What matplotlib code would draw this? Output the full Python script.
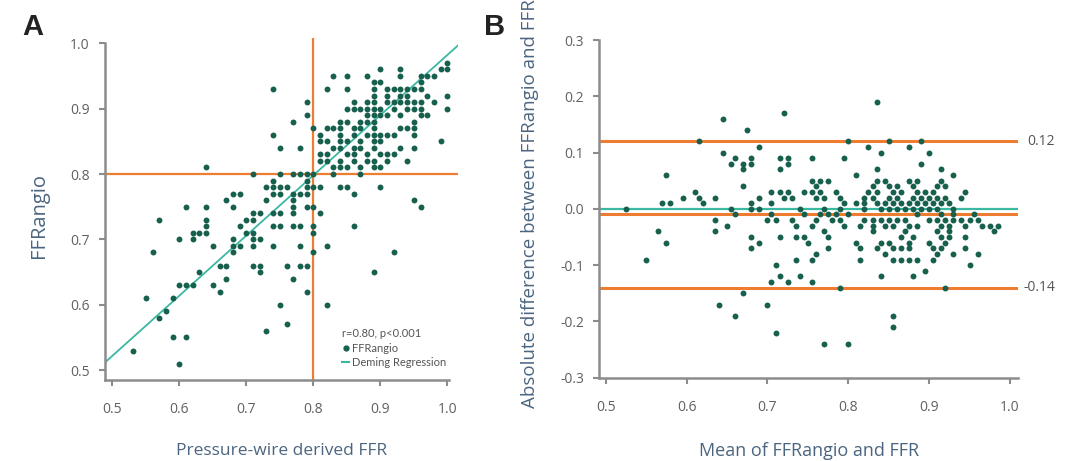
import matplotlib
matplotlib.use("Agg")
import matplotlib.pyplot as plt
from matplotlib.lines import Line2D

# --- Panel A: FFRangio rows (y) and the pressure-wire FFR values found on each row (x) ---
a_angio = [0.97, 0.96, 0.95, 0.94, 0.93, 0.92, 0.91, 0.90, 0.89, 0.88, 0.87, 0.86, 0.85, 0.84,
           0.83, 0.82, 0.81, 0.80, 0.79, 0.78, 0.77, 0.76, 0.75, 0.74, 0.73, 0.72, 0.71, 0.70,
           0.69, 0.68, 0.66, 0.65, 0.64, 0.63, 0.62, 0.61, 0.60, 0.59, 0.58, 0.57, 0.56, 0.55,
           0.53, 0.51]
a_wire = [
    [1.00],
    [0.90, 0.93, 0.99, 1.00],
    [0.83, 0.85, 0.88, 0.93, 0.96, 0.97, 0.98],
    [0.89, 0.90, 0.96],
    [0.74, 0.82, 0.85, 0.89, 0.91, 0.92, 0.93, 0.94, 0.95, 0.96],
    [0.89, 0.91, 0.93, 0.94, 0.97, 1.00],
    [0.79, 0.86, 0.88, 0.89, 0.91, 0.92, 0.93, 0.94, 0.95, 0.96, 0.98],
    [0.85, 0.86, 0.87, 0.88, 0.89, 0.90, 0.92, 0.94, 0.95, 0.96, 1.00],
    [0.79, 0.88, 0.89, 0.90, 0.91, 0.93, 0.96, 0.97],
    [0.77, 0.84, 0.85, 0.87, 0.88, 0.89, 0.95],
    [0.80, 0.82, 0.83, 0.84, 0.86, 0.87, 0.89, 0.93, 0.94, 0.95],
    [0.74, 0.81, 0.84, 0.86, 0.88, 0.89, 0.90, 0.91, 0.92, 0.95],
    [0.81, 0.82, 0.84, 0.85, 0.87, 0.89, 0.90, 0.99],
    [0.75, 0.78, 0.83, 0.84, 0.86, 0.87, 0.89, 0.93, 0.95],
    [0.81, 0.82, 0.85, 0.86, 0.88, 0.90, 0.91, 0.92],
    [0.81, 0.82, 0.84, 0.86, 0.88, 0.89, 0.91, 0.94],
    [0.64, 0.83, 0.84, 0.85, 0.87, 0.89, 0.90],
    [0.71, 0.75, 0.77, 0.78, 0.79, 0.80, 0.83, 0.87],
    [0.74, 0.79],
    [0.73, 0.74, 0.75, 0.76, 0.79, 0.80, 0.81, 0.84, 0.85, 0.90],
    [0.68, 0.69, 0.74, 0.75, 0.77, 0.78, 0.79, 0.86],
    [0.67, 0.73, 0.77, 0.95],
    [0.61, 0.64, 0.68, 0.77, 0.79, 0.80, 0.96],
    [0.71, 0.72, 0.74, 0.75, 0.77, 0.81],
    [0.57, 0.64, 0.70, 0.71],
    [0.64, 0.69, 0.74, 0.75, 0.77, 0.78, 0.80, 0.86],
    [0.62, 0.63, 0.64, 0.70, 0.71, 0.80],
    [0.60, 0.62, 0.68, 0.71, 0.72],
    [0.65, 0.68, 0.69, 0.71, 0.74, 0.78, 0.82],
    [0.56, 0.68, 0.80, 0.92],
    [0.66, 0.67, 0.71, 0.72, 0.76, 0.78, 0.79],
    [0.63, 0.72, 0.89],
    [0.67, 0.77],
    [0.60, 0.61, 0.62, 0.65],
    [0.66, 0.79],
    [0.55, 0.59],
    [0.75, 0.82],
    [0.58],
    [0.57],
    [0.76],
    [0.73],
    [0.59, 0.61],
    [0.53],
    [0.60],
]
deming_slope = 0.92
deming_intercept = 0.062
cutoff = 0.80

# --- Panel B: difference rows (y) and the means found on each row (x) ---
b_diff = [0.19, 0.17, 0.16, 0.14, 0.12, 0.11, 0.10, 0.09, 0.08, 0.07, 0.06, 0.05, 0.04, 0.03,
          0.02, 0.01, 0.00, -0.01, -0.02, -0.03, -0.04, -0.05, -0.06, -0.07, -0.08, -0.09,
          -0.10, -0.11, -0.12, -0.13, -0.14, -0.15, -0.17, -0.19, -0.21, -0.22, -0.24]
b_mean = [
    [0.835],
    [0.72],
    [0.645],
    [0.675],
    [0.615, 0.80, 0.85, 0.89],
    [0.69, 0.825, 0.875],
    [0.645, 0.84, 0.90],
    [0.66, 0.68, 0.715, 0.725, 0.755, 0.795],
    [0.655, 0.67, 0.68, 0.725, 0.89],
    [0.67, 0.715, 0.835, 0.915],
    [0.575, 0.81, 0.93],
    [0.755, 0.765, 0.775, 0.835, 0.845, 0.875, 0.885, 0.915],
    [0.67, 0.76, 0.83, 0.85, 0.86, 0.88, 0.91, 0.92],
    [0.61, 0.705, 0.715, 0.725, 0.745, 0.755, 0.765, 0.785, 0.825, 0.835, 0.855, 0.865,
     0.885, 0.895, 0.905, 0.945],
    [0.595, 0.615, 0.635, 0.69, 0.72, 0.73, 0.76, 0.77, 0.79, 0.82, 0.83, 0.85, 0.86, 0.88,
     0.89, 0.90, 0.91, 0.92, 0.94],
    [0.57, 0.58, 0.62, 0.68, 0.705, 0.795, 0.81, 0.82, 0.835, 0.845, 0.855, 0.865, 0.875,
     0.885, 0.895, 0.905, 0.915, 0.925],
    [0.525, 0.655, 0.68, 0.69, 0.74, 0.77, 0.79, 0.82, 0.84, 0.85, 0.86, 0.87, 0.88, 0.89,
     0.90, 0.91, 0.93],
    [0.66, 0.705, 0.745, 0.765, 0.775, 0.785, 0.80, 0.885, 0.915, 0.93, 0.955],
    [0.635, 0.70, 0.71, 0.73, 0.76, 0.78, 0.79, 0.82, 0.83, 0.84, 0.85, 0.86, 0.87, 0.90,
     0.91, 0.92, 0.93, 0.94, 0.95, 0.96],
    [0.65, 0.735, 0.755, 0.795, 0.815, 0.83, 0.845, 0.855, 0.875, 0.885, 0.915, 0.925,
     0.945, 0.965, 0.975, 0.985],
    [0.565, 0.635, 0.77, 0.83, 0.87, 0.91, 0.925, 0.98],
    [0.68, 0.715, 0.735, 0.745, 0.775, 0.865, 0.88, 0.915, 0.925, 0.945],
    [0.575, 0.69, 0.75, 0.81, 0.84, 0.85, 0.875, 0.90, 0.92],
    [0.68, 0.775, 0.815, 0.835, 0.855, 0.865, 0.875, 0.905, 0.915, 0.945],
    [0.76, 0.845, 0.91, 0.93, 0.96],
    [0.55, 0.735, 0.755, 0.815, 0.855, 0.865, 0.875, 0.885, 0.905],
    [0.71, 0.95],
    [0.895],
    [0.715, 0.74, 0.84, 0.88],
    [0.705, 0.725, 0.755],
    [0.79, 0.92],
    [0.67],
    [0.64, 0.70],
    [0.66, 0.855],
    [0.855],
    [0.71],
    [0.77, 0.80],
]
bias = -0.01
zero_line = -0.001
loa_upper = 0.12
loa_lower = -0.14

# colours
DOT = "#17604e"
ORANGE = "#ef7d31"
TEAL = "#3bb8a2"
SPINE = "#8c8c8c"
TICKTXT = "#606060"
LABEL = "#4b6580"

plt.rcParams["font.family"] = ["Open Sans", "DejaVu Sans"]

# flatten row lists into point lists
ax_x, ax_y = [], []
for yv, xs in zip(a_angio, a_wire):
    for xv in xs:
        ax_x.append(xv)
        ax_y.append(yv)
bx_x, bx_y = [], []
for yv, xs in zip(b_diff, b_mean):
    for xv in xs:
        bx_x.append(xv)
        bx_y.append(yv)

fig = plt.figure(figsize=(10.74, 4.61), dpi=100)
axA = fig.add_axes([0.0978, 0.1757, 0.3287, 0.7419])
axB = fig.add_axes([0.558, 0.1807, 0.3899, 0.7325])


def style_axes(ax):
    for side in ["top", "right"]:
        ax.spines[side].set_visible(False)
    for side in ["left", "bottom"]:
        ax.spines[side].set_color(SPINE)
        ax.spines[side].set_linewidth(1.8)
    ax.tick_params(axis="both", direction="out", length=4, width=1.5, color=SPINE,
                   labelcolor=TICKTXT, labelsize=10)
    ax.tick_params(axis="x", pad=12)
    ax.tick_params(axis="y", pad=7)


# ---------------- Panel A ----------------
xlimA = (0.489, 1.016)
ylimA = (0.485, 1.008)
axA.set_xlim(*xlimA)
axA.set_ylim(*ylimA)
axA.axhline(cutoff, color=ORANGE, lw=1.6, zorder=1)
axA.axvline(cutoff, color=ORANGE, lw=1.6, zorder=1)
axA.plot(list(xlimA), [deming_intercept + deming_slope * v for v in xlimA],
         color=TEAL, lw=1.3, zorder=2)
axA.scatter(ax_x, ax_y, s=18, color=DOT, linewidths=0, zorder=3)
style_axes(axA)
axA.spines["left"].set_bounds(ylimA[0], 1.0)
axA.spines["bottom"].set_bounds(xlimA[0], 1.003)
axA.set_xticks([0.5, 0.6, 0.7, 0.8, 0.9, 1.0])
axA.set_yticks([0.5, 0.6, 0.7, 0.8, 0.9, 1.0])
axA.set_xlabel("Pressure-wire derived FFR", fontsize=12.5, color=LABEL)
axA.xaxis.set_label_coords(0.5, -0.183)
axA.set_ylabel("FFRangio", fontsize=14.5, color=LABEL)
axA.yaxis.set_label_coords(-0.16, 0.48)

handles = [
    Line2D([], [], ls="none", marker="o", ms=3.5, color=DOT),
    Line2D([], [], color=TEAL, lw=1.5),
]
leg = axA.legend(handles, ["FFRangio", "Deming Regression"], title="r=0.80, p<0.001",
                 loc="lower left", bbox_to_anchor=(0.65, 0.012), frameon=False,
                 handlelength=0.6, handletextpad=0.25,
                 labelspacing=0.3, alignment="left", borderpad=0.2,
                 prop={"family": ["Lato", "DejaVu Sans"], "size": 8})
leg.get_title().set_color("#555555")
leg.get_title().set_family(["Lato", "DejaVu Sans"])
leg.get_title().set_fontsize(8)
for t in leg.get_texts():
    t.set_color("#555555")

# ---------------- Panel B ----------------
xlimB = (0.492, 1.01)
ylimB = (-0.3, 0.3)
axB.set_xlim(*xlimB)
axB.set_ylim(*ylimB)
axB.axhline(loa_upper, color=ORANGE, lw=2.2, zorder=1)
axB.axhline(bias, color=ORANGE, lw=2.2, zorder=1)
axB.axhline(loa_lower, color=ORANGE, lw=2.2, zorder=1)
axB.axhline(zero_line, color=TEAL, lw=1.6, zorder=1)
axB.scatter(bx_x, bx_y, s=18, color=DOT, linewidths=0, zorder=3)
style_axes(axB)
axB.set_xticks([0.5, 0.6, 0.7, 0.8, 0.9, 1.0])
axB.set_yticks([-0.3, -0.2, -0.1, 0.0, 0.1, 0.2, 0.3])
axB.set_xticklabels(["0.5", "0.6", "0.7", "0.8", "0.9", "1.0"])
axB.set_yticklabels(["-0.3", "-0.2", "-0.1", "0.0", "0.1", "0.2", "0.3"])
axB.set_xlabel("Mean of FFRangio and FFR", fontsize=13, color=LABEL)
axB.xaxis.set_label_coords(0.5, -0.19)
axB.set_ylabel("Absolute difference between FFRangio and FFR", fontsize=13.5, color=LABEL)
axB.yaxis.set_label_coords(-0.145, 0.515)
axB.text(1.022, loa_upper, f"{loa_upper:.2f}", transform=axB.get_yaxis_transform(),
         va="center", ha="left", fontsize=10, color="#555555")
axB.text(1.012, loa_lower, f"{loa_lower:.2f}", transform=axB.get_yaxis_transform(),
         va="center", ha="left", fontsize=10, color="#555555")

# panel letters
fig.text(0.021, 0.925, "A", fontsize=21, fontweight="bold", color="#222222",
         family=["Liberation Sans", "DejaVu Sans"])
fig.text(0.451, 0.925, "B", fontsize=21, fontweight="bold", color="#222222",
         family=["Liberation Sans", "DejaVu Sans"])

fig.savefig("out.png", dpi=100)
